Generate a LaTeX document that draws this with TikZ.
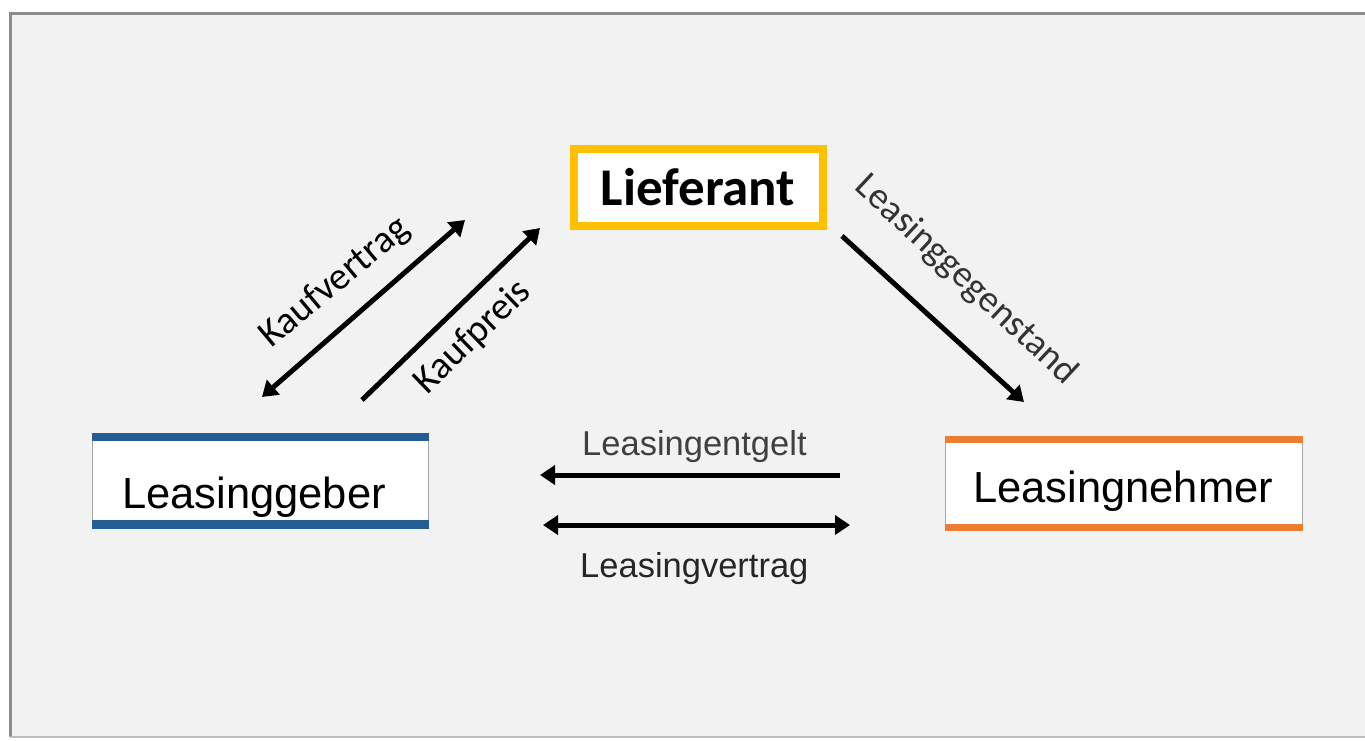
\documentclass[tikz,border=0pt]{standalone}
\usepackage{fontspec}
\setmainfont{Liberation Sans}
\newfontfamily\calib{Carlito}
\usetikzlibrary{arrows.meta}
\definecolor{bgc}{HTML}{F2F2F2}
\definecolor{framec}{HTML}{8C8C8C}
\definecolor{yel}{HTML}{FFC000}
\definecolor{blu}{HTML}{245C94}
\definecolor{ora}{HTML}{ED7D31}
\definecolor{txtg}{HTML}{404040}
\begin{document}
\begin{tikzpicture}[x=1pt,y=-1pt,
  conn/.style={line width=5pt,-{Triangle[length=15pt,width=19pt]}},
  conn2/.style={line width=5pt,{Triangle[length=15pt,width=19pt]}-{Triangle[length=15pt,width=19pt]}},
  lbl/.style={font=\calib\fontsize{38.5}{44}\selectfont,inner sep=0pt},
  flat/.style={draw=black!35,line width=1pt,fill=white,inner sep=0pt},
  big/.style={font=\fontsize{42}{48}\selectfont,inner sep=0pt,anchor=base west},
  small/.style={font=\fontsize{34.5}{40}\selectfont,inner sep=0pt,anchor=base west}]
\useasboundingbox (0,0) rectangle (1365,740);
% frame
\fill[white] (0,0) rectangle (1365,740);
\fill[bgc] (10,13) rectangle (1370,737);
\draw[framec,line width=3pt] (10,737) -- (10,13) -- (1370,13);
\draw[black!25,line width=2pt] (10,737) -- (1370,737);
% Lieferant
\node[draw=yel,fill=white,line width=8pt,minimum width=249pt,minimum height=77pt,inner sep=0pt,
  font=\calib\bfseries\fontsize{53}{60}\selectfont] (lief) at (698,187.5) {\raisebox{-2pt}{Lieferant}};
% Leasinggeber box
\node[flat,minimum width=336pt,minimum height=87pt] (lg) at (260,480.5) {};
\draw[blu,line width=8pt] (lg.north west) -- (lg.north east);
\draw[blu,line width=9pt] (lg.south west) -- (lg.south east);
\node[big,font=\fontsize{43.5}{48}\selectfont] (lgt) at (122,508) {Leasinggeber};
% Leasingnehmer box
\node[flat,minimum width=357pt,minimum height=87pt] (ln) at (1123.5,483.5) {};
\draw[ora,line width=7pt] (ln.north west) -- (ln.north east);
\draw[ora,line width=7pt] (ln.south west) -- (ln.south east);
\node[big,font=\fontsize{43.5}{48}\selectfont] (lnt) at (973,502) {Leasingnehmer};
% arrow endpoints
\coordinate (kv1) at (262,397);
\coordinate (kv2) at (465,220);
\coordinate (kp1) at (362,400);
\coordinate (kp2) at (540,228);
\coordinate (lgg1) at (842,236);
\coordinate (lgg2) at (1024,402);
\coordinate (le1) at (840,475);
\coordinate (le2) at (540,475);
\coordinate (lv1) at (543,525);
\coordinate (lv2) at (850,525);
\draw[conn2] (kv1) -- (kv2);
\draw[conn] (kp1) -- (kp2);
\draw[conn] (lgg1) -- (lgg2);
\draw[conn] (le1) -- (le2);
\draw[conn2] (lv1) -- (lv2);
% labels
\node[lbl,rotate=40] (kvt) at (335,283) {Kaufvertrag};
\node[lbl,rotate=44] (kpt) at (473,337) {Kaufpreis};
\node[lbl,rotate=-43,text=black!80,font=\calib\fontsize{37.5}{42}\selectfont] (lggt) at (966,280) {Leasinggegenstand};
\node[small,text=txtg] (let) at (582,455) {Leasingentgelt};
\node[small,text=black!85] (lvt) at (580,577) {Leasingvertrag};
\end{tikzpicture}
\end{document}
